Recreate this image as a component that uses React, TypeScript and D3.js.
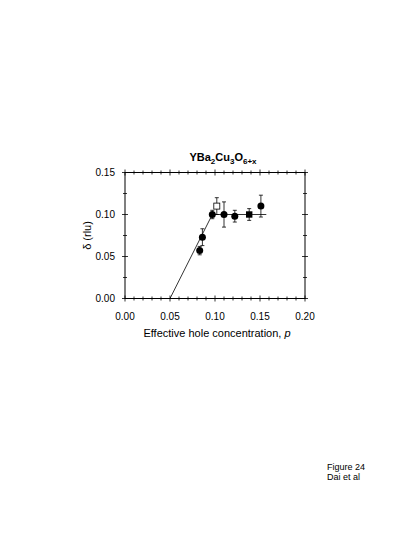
import React from 'react';
import * as d3 from 'd3';

// filled circles
const circleP = [0.083, 0.086, 0.097, 0.11, 0.122, 0.151];
const circleD = [0.057, 0.073, 0.1, 0.1, 0.098, 0.11];
const circleLo = [0.052, 0.063, 0.095, 0.085, 0.091, 0.097];
const circleHi = [0.062, 0.083, 0.105, 0.115, 0.105, 0.123];

// filled square
const squareP = [0.138];
const squareD = [0.1];
const squareLo = [0.093];
const squareHi = [0.107];

// open square
const openP = [0.102];
const openD = [0.11];
const openLo = [0.1];
const openHi = [0.12];

// guide line
const lineP = [0.05, 0.097, 0.157];
const lineD = [0.0, 0.1, 0.1];

const xTicks = [0, 0.05, 0.1, 0.15, 0.2];
const yTicks = [0, 0.05, 0.1, 0.15];

const font = 'Liberation Sans, Arial, Helvetica, sans-serif';

export default function App() {
  const margin = { left: 125, right: 110, top: 172.5, bottom: 246.5 };
  const W = 415, H = 545;
  const x = d3.scaleLinear().domain([0, 0.2]).range([margin.left, W - margin.right]);
  const y = d3.scaleLinear().domain([0, 0.15]).range([H - margin.bottom, margin.top]);

  const xMinor = d3.range(0, 0.2001, 0.01);
  const yMinor = d3.range(0, 0.1501, 0.025);
  const isMajor = (v, step) => Math.abs(v / step - Math.round(v / step)) < 1e-6;

  const line = d3.line<number>().x((d, i) => x(lineP[i])).y((d, i) => y(lineD[i]));

  const x0 = x(0), x1 = x(0.2), y0 = y(0), y1 = y(0.15);

  const errBar = (px, lo, hi, key) => (
    <g key={key} stroke="#000" strokeWidth={0.8}>
      <line x1={x(px)} x2={x(px)} y1={y(lo)} y2={y(hi)} />
      <line x1={x(px) - 2} x2={x(px) + 2} y1={y(lo)} y2={y(lo)} />
      <line x1={x(px) - 2} x2={x(px) + 2} y1={y(hi)} y2={y(hi)} />
    </g>
  );

  return (
    <svg width={W} height={H} style={{ position: 'absolute', left: 0, top: 0 }}>
      <rect width={W} height={H} fill="#fff" />
      {/* frame */}
      <rect x={x0} y={y1} width={x1 - x0} height={y0 - y1} fill="none" stroke="#000" strokeWidth={1} />
      {/* x ticks bottom/top */}
      {xMinor.map((v, i) => {
        const t = isMajor(v, 0.05) ? 3 : 2;
        return (
          <g key={'xt' + i} stroke="#000" strokeWidth={0.8}>
            <line x1={x(v)} x2={x(v)} y1={y0 - t} y2={y0 + t} />
            <line x1={x(v)} x2={x(v)} y1={y1 - t} y2={y1 + t} />
          </g>
        );
      })}
      {yMinor.map((v, i) => {
        const t = isMajor(v, 0.05) ? 3 : 2;
        return (
          <g key={'yt' + i} stroke="#000" strokeWidth={0.8}>
            <line x1={x0 - t} x2={x0 + t} y1={y(v)} y2={y(v)} />
            <line x1={x1 - t} x2={x1 + t} y1={y(v)} y2={y(v)} />
          </g>
        );
      })}
      {xTicks.map((v) => (
        <text key={'xl' + v} x={x(v)} y={y0 + 21} fontFamily={font} fontSize={10} textAnchor="middle">
          {d3.format('.2f')(v)}
        </text>
      ))}
      {yTicks.map((v) => (
        <text key={'yl' + v} x={x0 - 10} y={y(v) + 3.5} fontFamily={font} fontSize={10} textAnchor="end">
          {d3.format('.2f')(v)}
        </text>
      ))}
      {/* title */}
      <text x={223} y={161} fontFamily={font} fontSize={11} fontWeight="bold" textAnchor="middle">
        YBa<tspan fontSize={8} dy={3}>2</tspan>
        <tspan dy={-3}>Cu</tspan>
        <tspan fontSize={8} dy={3}>3</tspan>
        <tspan dy={-3}>O</tspan>
        <tspan fontSize={8} dy={3}>6+x</tspan>
      </text>
      {/* axis labels */}
      <text x={x((0.2) / 2) + 2} y={337} fontFamily={font} fontSize={11} textAnchor="middle">
        Effective hole concentration, <tspan fontStyle="italic">p</tspan>
      </text>
      <text transform={`translate(91, ${(y0 + y1) / 2}) rotate(-90)`} fontFamily={font} fontSize={11} textAnchor="middle">
        δ (rlu)
      </text>
      {/* guide line */}
      <path d={line(lineP) || ''} fill="none" stroke="#000" strokeWidth={0.8} />
      {/* error bars */}
      {circleP.map((p, i) => errBar(p, circleLo[i], circleHi[i], 'ce' + i))}
      {squareP.map((p, i) => errBar(p, squareLo[i], squareHi[i], 'se' + i))}
      {openP.map((p, i) => errBar(p, openLo[i], openHi[i], 'oe' + i))}
      {/* markers */}
      {circleP.map((p, i) => (
        <circle key={'c' + i} cx={x(p)} cy={y(circleD[i])} r={3.5} fill="#000" />
      ))}
      {squareP.map((p, i) => (
        <rect key={'s' + i} x={x(p) - 3.2} y={y(squareD[i]) - 3.2} width={6.4} height={6.4} fill="#000" />
      ))}
      {openP.map((p, i) => (
        <rect key={'o' + i} x={x(p) - 3} y={y(openD[i]) - 3} width={6} height={6} fill="#fff" stroke="#000" strokeWidth={0.8} />
      ))}
      {/* caption */}
      <text x={327} y={470} fontFamily={font} fontSize={9}>Figure 24</text>
      <text x={327} y={480} fontFamily={font} fontSize={9}>Dai et al</text>
    </svg>
  );
}
